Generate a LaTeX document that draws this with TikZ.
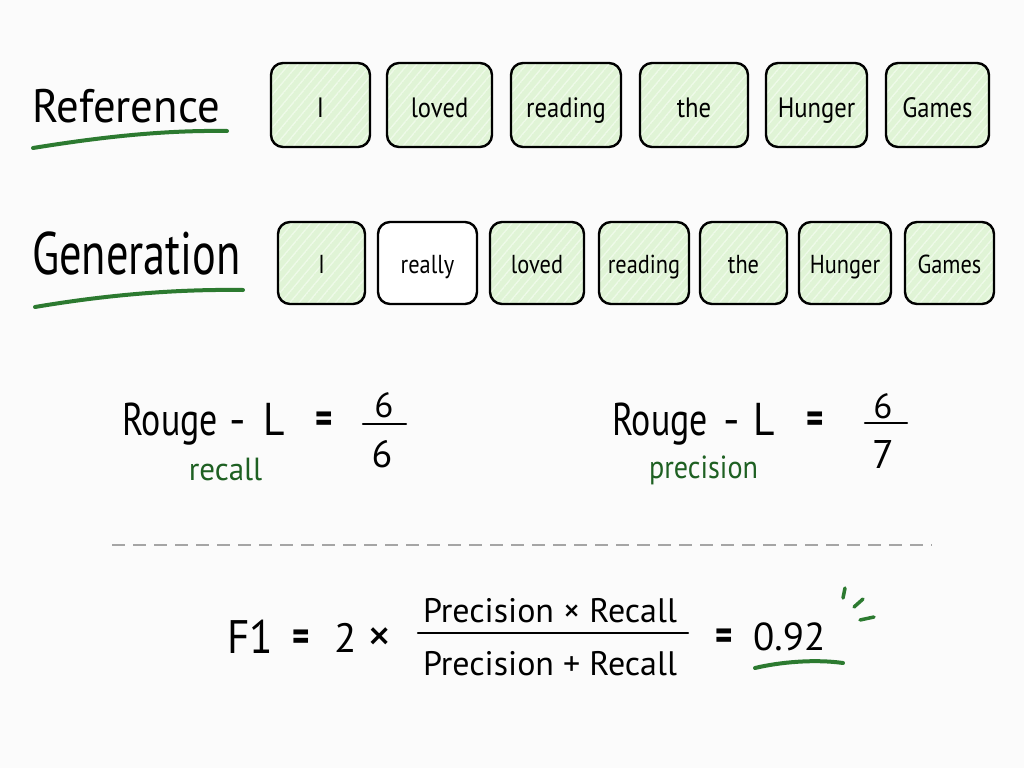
\documentclass[tikz,border=0pt]{standalone}
\usepackage{fontspec}
\setmainfont{PT Sans}
\usepackage{graphicx}
\usetikzlibrary{patterns.meta}
\definecolor{boxfill}{RGB}{224,244,214}
\definecolor{hatchc}{RGB}{238,250,232}
\definecolor{ulgreen}{RGB}{44,122,48}
\definecolor{txtgreen}{RGB}{30,96,34}
\definecolor{bgc}{RGB}{251,251,251}
\definecolor{dashgray}{RGB}{165,165,165}
\newcommand\hsx[2]{\scalebox{#1}[1]{#2}}
\tikzdeclarepattern{
  name=hatch,
  type=uncolored,
  bounding box={(0pt,-0.7pt) and (7pt,0.7pt)},
  tile size={(7pt,7pt)},
  tile transformation={rotate=50},
  code={\draw[line width=1.4pt] (0pt,0pt) -- (7pt,0pt);}
}
\tikzset{
  tokbase/.style={draw=black, line width=2.4pt, rounded corners=12pt, inner sep=0pt},
  tokA/.style={tokbase, preaction={fill=boxfill}, pattern=hatch, pattern color=hatchc,
    font=\fontsize{28}{30}\selectfont, text height=24pt, text depth=0pt, minimum height=84pt},
  tokB/.style={tokbase, preaction={fill=boxfill}, pattern=hatch, pattern color=hatchc,
    font=\fontsize{26}{28}\selectfont, text height=20pt, text depth=0pt, minimum height=82pt},
  tokW/.style={tokbase, fill=white,
    font=\fontsize{26}{28}\selectfont, text height=20pt, text depth=0pt, minimum height=82pt},
  lbl/.style={inner sep=0pt, anchor=base west},
  eq/.style={inner sep=0pt, anchor=base, font=\fontsize{46}{50}\selectfont},
  eqsign/.style={inner sep=0pt, anchor=center, font=\bfseries\fontsize{44}{48}\selectfont},
  sub/.style={inner sep=0pt, anchor=base, text=txtgreen, font=\fontsize{32}{36}\selectfont},
  ul/.style={draw=ulgreen, line width=4pt, line cap=round},
  fbar/.style={draw=black, line width=2.4pt, line cap=round}
}
\begin{document}
\begin{tikzpicture}[x=1pt,y=-1pt]
\fill[bgc] (0,0) rectangle (1024,768);
\useasboundingbox (0,0) rectangle (1024,768);

% Row labels
\node[lbl, font=\fontsize{47}{50}\selectfont] (reflab) at (32,122) {\hsx{0.95}{Reference}};
\node[lbl, font=\fontsize{60}{64}\selectfont] (genlab) at (32,274) {\hsx{0.74}{Generation}};
\draw[ul] (33,148) .. controls (95,138) and (160,130) .. (227,131);
\draw[ul] (35,307) .. controls (100,296) and (170,289) .. (243,290);

% Reference tokens
\node[tokA, minimum width=99pt]  (r1) at (320.5,105) {\hsx{0.88}{I}};
\node[tokA, minimum width=105pt] (r2) at (439.5,105) {\hsx{0.88}{loved}};
\node[tokA, minimum width=110pt] (r3) at (566,105)   {\hsx{0.88}{reading}};
\node[tokA, minimum width=108pt] (r4) at (694,105)   {\hsx{0.88}{the}};
\node[tokA, minimum width=101pt] (r5) at (816.5,105) {\hsx{0.88}{Hunger}};
\node[tokA, minimum width=103pt] (r6) at (937.5,105) {\hsx{0.88}{Games}};

% Generation tokens
\node[tokB, minimum width=87pt] (g1) at (321.5,263) {\hsx{0.86}{I}};
\node[tokW, minimum width=99pt] (g2) at (427.5,263) {\hsx{0.86}{really}};
\node[tokB, minimum width=94pt] (g3) at (537,263)   {\hsx{0.86}{loved}};
\node[tokB, minimum width=90pt] (g4) at (644,263)   {\hsx{0.86}{reading}};
\node[tokB, minimum width=87pt] (g5) at (743.5,263) {\hsx{0.86}{the}};
\node[tokB, minimum width=92pt] (g6) at (845,263)   {\hsx{0.86}{Hunger}};
\node[tokB, minimum width=89pt] (g7) at (949.5,263) {\hsx{0.86}{Games}};

% Rouge-L recall
\node[eq, anchor=base west] (rl1) at (122,435) {\hsx{0.78}{Rouge}};
\node[eq] (rl1d) at (237.5,435) {-};
\node[eq, anchor=base west] (rl1L) at (263,435) {\hsx{0.9}{L}};
\node[eqsign] (rl1eq) at (324,422.5) {\hsx{0.75}{=}};
\coordinate (b1a) at (363,424);
\coordinate (b1b) at (406,424);
\draw[fbar] (b1a) -- (b1b);
\node[eq, font=\fontsize{35}{38}\selectfont] (rl1n) at (384,417) {6};
\node[eq, font=\fontsize{38}{40}\selectfont] (rl1den) at (382,467) {6};
\node[sub] (rec) at (225.5,480) {\hsx{0.97}{recall}};

% Rouge-L precision
\node[eq, anchor=base west] (rl2) at (612,435) {\hsx{0.78}{Rouge}};
\node[eq] (rl2d) at (732,435) {-};
\node[eq, anchor=base west] (rl2L) at (753,435) {\hsx{0.9}{L}};
\node[eqsign] (rl2eq) at (815.5,422.5) {\hsx{0.75}{=}};
\coordinate (b2a) at (865,423);
\coordinate (b2b) at (907,423);
\draw[fbar] (b2a) -- (b2b);
\node[eq, font=\fontsize{35}{38}\selectfont] (rl2n) at (883,418) {6};
\node[eq, font=\fontsize{40}{42}\selectfont] (rl2den) at (883,468) {7};
\node[sub] (prec) at (703.5,478) {\hsx{0.88}{precision}};

% separator
\coordinate (dA) at (112,545);
\coordinate (dB) at (932,545);
\draw[dashgray, line width=2.5pt, dash pattern=on 13pt off 8pt] (dA) -- (dB);

% F1
\node[eq, anchor=base west, font=\fontsize{47}{50}\selectfont] (f1) at (227,653) {\hsx{0.92}{F1}};
\node[eqsign] (f1eq) at (301,641) {\hsx{0.75}{=}};
\node[eq, font=\fontsize{41}{44}\selectfont] (two) at (346,652) {2};
\node[eq, font=\fontsize{48}{50}\selectfont, anchor=center] (times) at (380,640) {×};
\coordinate (fbA) at (418,633);
\coordinate (fbB) at (688,633);
\draw[fbar] (fbA) -- (fbB);
\node[eq, font=\fontsize{34}{38}\selectfont] (fnum) at (550,622) {Precision × Recall};
\node[eq, font=\fontsize{34}{38}\selectfont] (fden) at (550,675) {Precision + Recall};
\node[eqsign] (f1eq2) at (724,640) {\hsx{0.75}{=}};
\node[eq, anchor=base west, font=\fontsize{39}{42}\selectfont] (res) at (753,650) {0.92};
\draw[ul] (755,668) .. controls (780,662) and (815,659) .. (843,663);
\draw[ul, line width=3.5pt] (845,588) -- (843,598);
\draw[ul, line width=3.5pt] (863,599) -- (854,607);
\draw[ul, line width=3.5pt] (860,620) -- (874,617);
\end{tikzpicture}
\end{document}
